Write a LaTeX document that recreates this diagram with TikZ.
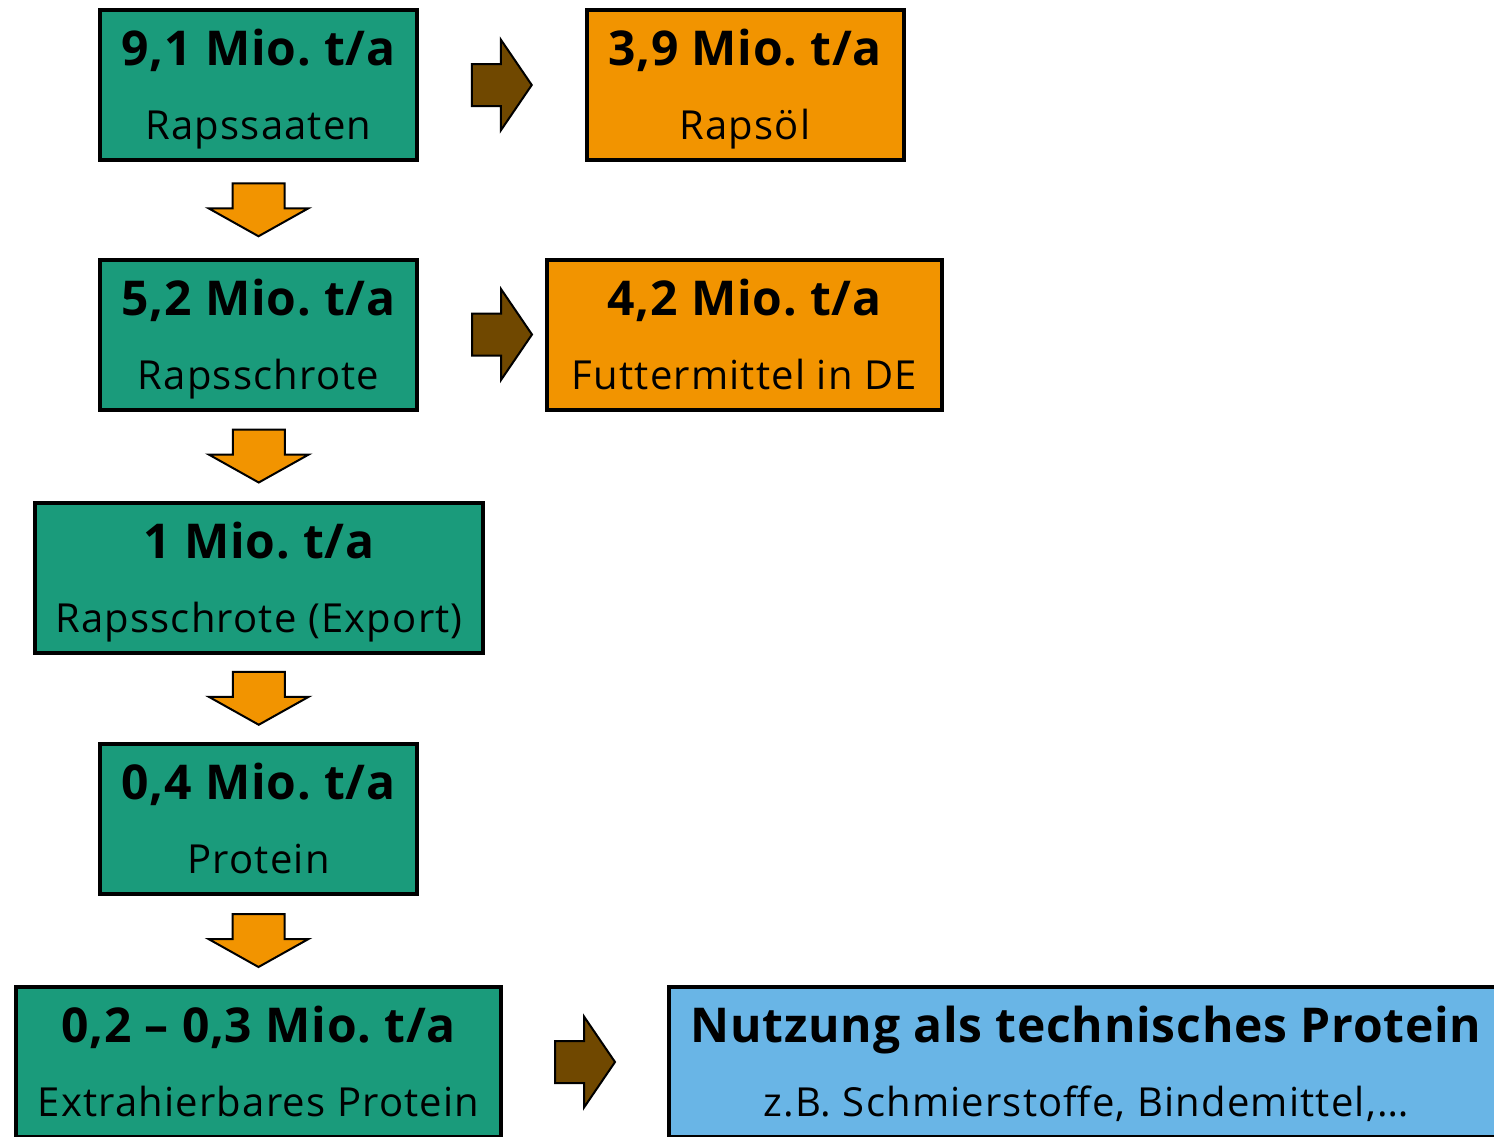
\documentclass[tikz,border=0pt]{standalone}
\usepackage{fontspec}
\setmainfont{Open Sans}[LetterSpace=3,BoldFeatures={LetterSpace=1.6}]
\usepackage{tikz}
\usepackage{xcolor}
\usetikzlibrary{calc}
\frenchspacing

\definecolor{fhgruen}{RGB}{26,155,123}
\definecolor{fhorange}{RGB}{242,148,0}
\definecolor{fhblau}{RGB}{105,181,230}
\definecolor{fhbraun}{RGB}{112,72,0}

\newcommand{\werte}[2]{{\bfseries\fontsize{24}{37}\selectfont\rule{0pt}{23.5pt}#1}\\\rule[-6pt]{0pt}{6pt}#2}

\tikzset{
	box/.style={draw=black,line width=2pt,minimum width=158.5pt,minimum height=75pt,inner sep=0pt,align=center,font=\fontsize{20}{37}\selectfont},
	gbox/.style={box,fill=fhgruen},
	obox/.style={box,fill=fhorange},
	bbox/.style={box,fill=fhblau},
	rpfeil/.pic={\draw[line width=1pt,fill=fhbraun] (-30,-21) -- (-1,-21) -- (-1,-45.5) -- (30,0) -- (-1,45.5) -- (-1,21) -- (-30,21) -- cycle;},
	dpfeil/.pic={\draw[line width=1pt,fill=fhorange] (-26,-26.5) -- (26,-26.5) -- (26,-1.5) -- (50,-1.5) -- (0,26.5) -- (-50,-1.5) -- (-26,-1.5) -- cycle;}
}

\begin{document}
\begin{tikzpicture}[x=0.5pt,y=-0.5pt]
			\clip (0,0) rectangle (1494,1136);
			\node[gbox] (saat) at (258.5,85) {\werte{9,1 Mio. t/a}{Rapssaaten}};
			\node[obox] (oel) at (745,85) {\werte{3,9 Mio. t/a}{Rapsöl}};
			\node[gbox] (schrot) at (258.5,334.5) {\werte{5,2 Mio. t/a}{Rapsschrote}};
			\node[obox,minimum width=197.5pt] (futter) at (744.5,334.5) {\werte{4,2 Mio. t/a}{Futtermittel in DE}};
			\node[gbox,minimum width=224pt] (export) at (259,577.5) {\werte{1 Mio. t/a}{Rapsschrote (Export)}};
			\node[gbox] (protein) at (258.5,819) {\werte{0,4 Mio. t/a}{Protein}};
			\node[gbox,minimum width=242.5pt] (extrakt) at (258.5,1062) {\werte{0,2 -- 0,3 Mio. t/a}{Extrahierbares Protein}};
			\node[bbox,minimum width=417pt] (nutzung) at (1086,1062) {\werte{Nutzung als technisches Protein}{z.B. Schmierstoffe, Bindemittel,\dots}};

			\pic at ($(saat.east)!0.5!(oel.west)$) {rpfeil};
			\pic at ($(schrot.east)+(83,0)$) {rpfeil};
			\pic at ($(extrakt.east)!0.5!(nutzung.west)$) {rpfeil};
			\pic at ($(saat.south)!0.5!(schrot.north)$) {dpfeil};
			\pic at ($(schrot.south)!0.5!(export.north)$) {dpfeil};
			\pic at ($(export.south)!0.5!(protein.north)$) {dpfeil};
			\pic at ($(protein.south)!0.5!(extrakt.north)$) {dpfeil};
		\end{tikzpicture}
\end{document}
